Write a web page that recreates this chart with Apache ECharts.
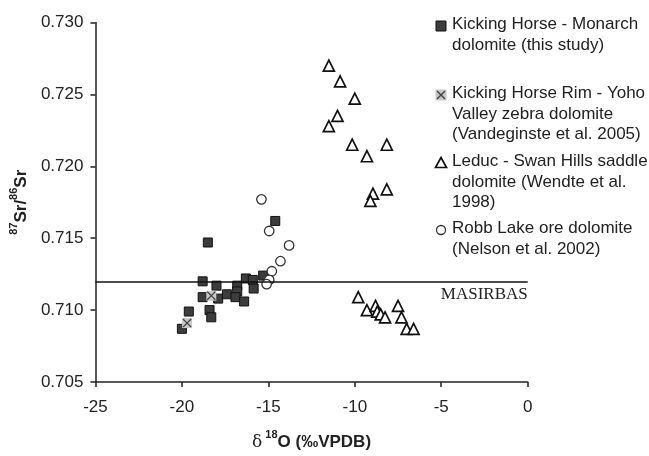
<!DOCTYPE html>
<html><head><meta charset="utf-8">
<script src="https://cdn.jsdelivr.net/npm/echarts@6/dist/echarts.min.js"></script>
<style>html,body{margin:0;padding:0;background:#fff}#c{width:649px;height:456px}</style>
</head><body><div id="c"></div>
<script>
var xTicks = [-25, -20, -15, -10, -5, 0];
var yTicks = [0.705, 0.710, 0.715, 0.720, 0.725, 0.730];
var masirbas = 0.712;

var monarchX = [-20.0,-19.6,-18.8,-18.8,-18.5,-18.4,-18.3,-18.0,-17.9,-17.4,-16.8,-16.8,-16.9,-16.4,-16.3,-15.9,-15.85,-15.3,-14.6];
var monarchY = [0.7087,0.7099,0.7120,0.7109,0.7147,0.7100,0.7095,0.7117,0.7108,0.7111,0.7117,0.7113,0.7109,0.7106,0.7122,0.7121,0.7115,0.7124,0.7162];
var yohoX = [-19.7,-18.3];
var yohoY = [0.7091,0.7110];
var leducX = [-11.5,-10.85,-10.0,-11.0,-11.5,-10.15,-8.15,-9.3,-8.15,-8.95,-9.1,-9.8,-9.3,-8.8,-8.7,-8.5,-8.25,-7.5,-7.3,-7.0,-6.6];
var leducY = [0.7270,0.7259,0.7247,0.7235,0.7228,0.7215,0.7215,0.7207,0.7184,0.7181,0.7176,0.7109,0.7100,0.7103,0.7099,0.7097,0.7095,0.7103,0.7095,0.7087,0.7087];
var robbX = [-15.4,-14.95,-13.8,-14.3,-14.8,-14.95,-15.1];
var robbY = [0.7177,0.7155,0.7145,0.7134,0.7127,0.7121,0.7118];

var names = ['Kicking Horse - Monarch dolomite (this study)',
  'Kicking Horse Rim - Yoho Valley zebra dolomite (Vandeginste et al. 2005)',
  'Leduc - Swan Hills saddle dolomite (Wendte et al. 1998)',
  'Robb Lake ore dolomite (Nelson et al. 2002)'];
var legendLines = [
  ['Kicking Horse - Monarch', 'dolomite (this study)'],
  ['Kicking Horse Rim - Yoho', 'Valley zebra dolomite', '(Vandeginste et al. 2005)'],
  ['Leduc - Swan Hills saddle', 'dolomite (Wendte et al.', '1998)'],
  ['Robb Lake ore dolomite', '(Nelson et al. 2002)']
];

function zip(xs, ys) { return xs.map(function (x, i) { return [x, ys[i]]; }); }

var XPATH = 'path://M1,0 L5,4 L9,0 L10,1 L6,5 L10,9 L9,10 L5,6 L1,10 L0,9 L4,5 L0,1 Z';
var FONT = '"Liberation Sans", Arial, sans-serif';
var TXT = '#222';

var legendTops = [26, 95, 163, 230];
var lh = 20.5;
var g = [];
legendLines.forEach(function (lines, i) {
  lines.forEach(function (t, j) {
    g.push({ type: 'text', left: 452, top: legendTops[i] + j * lh - 10,
      style: { text: t, font: '17px ' + FONT, fill: TXT } });
  });
});
var mx = 441;
g.push({ type: 'rect', shape: { x: mx - 5, y: legendTops[0] - 5, width: 10, height: 10 },
  style: { fill: '#3c3c3c', stroke: '#111', lineWidth: 1 } });
g.push({ type: 'rect', shape: { x: mx - 5.5, y: legendTops[1] - 5.5, width: 11, height: 11 },
  style: { fill: '#c8c8c8' } });
g.push({ type: 'polyline', shape: { points: [[mx - 4, legendTops[1] - 4], [mx + 4, legendTops[1] + 4]] }, style: { stroke: '#444', lineWidth: 1.4 } });
g.push({ type: 'polyline', shape: { points: [[mx + 4, legendTops[1] - 4], [mx - 4, legendTops[1] + 4]] }, style: { stroke: '#444', lineWidth: 1.4 } });
g.push({ type: 'polygon', shape: { points: [[mx, legendTops[2] - 5.5], [mx + 5.5, legendTops[2] + 4.5], [mx - 5.5, legendTops[2] + 4.5]] },
  style: { fill: '#fff', stroke: '#111', lineWidth: 1.7 } });
g.push({ type: 'circle', shape: { cx: mx, cy: legendTops[3], r: 4.5 },
  style: { fill: '#fff', stroke: '#333', lineWidth: 1.3 } });

var chart = echarts.init(document.getElementById('c'), null, { renderer: 'canvas' });
chart.setOption({
  animation: false,
  backgroundColor: '#fff',
  grid: { left: 94, top: 22.5, right: 121.3, bottom: 70, containLabel: false },
  xAxis: {
    type: 'value', min: xTicks[0], max: xTicks[xTicks.length - 1], interval: 5,
    splitLine: { show: false },
    axisLine: { onZero: false, lineStyle: { color: '#222', width: 1.5 } },
    axisTick: { show: true, length: 5, lineStyle: { color: '#222', width: 1.5 } },
    axisLabel: { color: TXT, fontSize: 17, fontFamily: FONT, margin: 17 },
    name: '{d|δ}{sup|18}{b|O (‰VPDB)}',
    nameLocation: 'middle', nameGap: 47,
    nameTextStyle: {
      rich: {
        d: { fontSize: 17, fontFamily: '"DejaVu Serif", serif', color: TXT, lineHeight: 22, verticalAlign: 'bottom' },
        sup: { fontSize: 11, fontWeight: 'bold', fontFamily: FONT, color: TXT, lineHeight: 22, verticalAlign: 'top', padding: [0, 0, 0, 3] },
        b: { fontSize: 17, fontWeight: 'bold', fontFamily: FONT, color: TXT, lineHeight: 22, verticalAlign: 'bottom' }
      }
    }
  },
  yAxis: {
    type: 'value', min: yTicks[0], max: yTicks[yTicks.length - 1], interval: 0.005,
    splitLine: { show: false },
    axisLine: { show: true, onZero: false, lineStyle: { color: '#222', width: 1.5 } },
    axisTick: { show: true, length: 5, lineStyle: { color: '#222', width: 1.5 } },
    axisLabel: { color: TXT, fontSize: 17, fontFamily: FONT, margin: 12,
      formatter: function (v) { return v.toFixed(3); } },
    name: '{sup|87}{b|Sr/}{sup|86}{b|Sr}',
    nameLocation: 'middle', nameGap: 57,
    nameTextStyle: {
      rich: {
        sup: { fontSize: 11, fontWeight: 'bold', fontFamily: FONT, color: TXT, lineHeight: 22, verticalAlign: 'top' },
        b: { fontSize: 17, fontWeight: 'bold', fontFamily: FONT, color: TXT, lineHeight: 22, verticalAlign: 'bottom' }
      }
    }
  },
  graphic: g,
  series: [
    {
      name: names[0], type: 'scatter', data: zip(monarchX, monarchY),
      symbol: 'rect', symbolSize: 9,
      itemStyle: { color: '#3c3c3c', borderColor: '#111', borderWidth: 1, opacity: 1 },
      markLine: {
        silent: true, symbol: ['none', 'none'], precision: 4,
        lineStyle: { color: '#111', width: 1.5, type: 'solid' },
        label: { show: true, position: 'insideEndBottom', formatter: 'MASIRBAS',
          fontFamily: '"Liberation Serif", "Times New Roman", serif', fontSize: 17, color: TXT, distance: [0, 5] },
        data: [{ yAxis: masirbas }]
      }
    },
    {
      name: names[1], type: 'scatter', data: zip(yohoX, yohoY),
      symbol: 'rect', symbolSize: 10,
      itemStyle: { color: '#c8c8c8', opacity: 1 }
    },
    {
      name: names[1] + ' ', type: 'scatter', data: zip(yohoX, yohoY),
      symbol: XPATH, symbolSize: 9,
      itemStyle: { color: '#444', opacity: 1 }
    },
    {
      name: names[2], type: 'scatter', data: zip(leducX, leducY),
      symbol: 'triangle', symbolSize: 11,
      itemStyle: { color: '#fff', borderColor: '#111', borderWidth: 1.7, opacity: 1 }
    },
    {
      name: names[3], type: 'scatter', data: zip(robbX, robbY),
      symbol: 'circle', symbolSize: 9.5,
      itemStyle: { color: '#fff', borderColor: '#333', borderWidth: 1.3, opacity: 1 }
    }
  ]
});
</script></body></html>
